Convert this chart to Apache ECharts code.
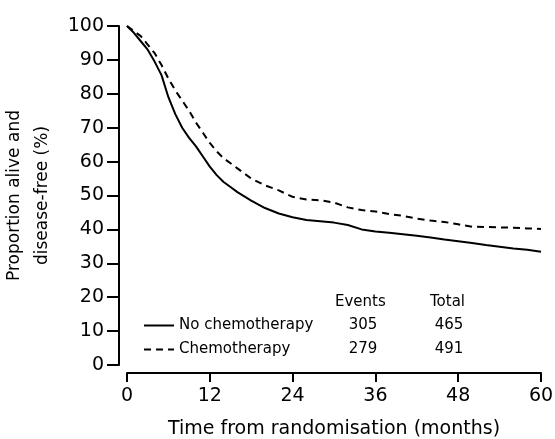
<!DOCTYPE html>
<html>
<head>
<meta charset="UTF-8">
<title></title>
<script src="https://cdn.jsdelivr.net/npm/echarts@6/dist/echarts.min.js"></script>
<style>
	html, body { margin: 0; padding: 0; background: #fff; }
	#main { width: 555px; height: 439px; }
</style>
</head>
<body>
<div id="main"></div>
<script>
	// months from randomisation
	var months = [0, 1, 2, 3, 4, 5, 6, 7, 8, 9, 10, 11, 12, 13, 14, 15, 16, 18, 20, 22, 24, 26, 28, 30, 32, 34, 36, 38, 40, 42, 44, 46, 48, 50, 52, 54, 56, 58, 60];
	// proportion alive and disease-free (%)
	var noChemo = [100, 98, 95.5, 93, 89.5, 85.5, 79, 74, 70, 67, 64.5, 61.5, 58.5, 56, 54, 52.5, 51, 48.5, 46.3, 44.7, 43.6, 42.8, 42.4, 42, 41.3, 40, 39.4, 39, 38.6, 38.1, 37.6, 37, 36.5, 36, 35.4, 34.9, 34.4, 34, 33.4];
	var chemo = [100, 98.5, 97, 94.5, 92, 88.5, 84.5, 81, 78, 75, 71.5, 68.5, 65.5, 63, 61, 59.5, 58, 55, 53, 51.5, 49.6, 48.8, 48.6, 47.9, 46.5, 45.7, 45.3, 44.5, 44, 43.2, 42.6, 42.2, 41.5, 40.8, 40.7, 40.6, 40.5, 40.3, 40.1];

	var seriesNames = ['No chemotherapy', 'Chemotherapy'];
	var events = [305, 279];
	var totals = [465, 491];
	var xTicks = [0, 12, 24, 36, 48, 60];

	function pairs(ys) {
		return months.map(function (m, i) { return [m, ys[i]]; });
	}

	var font = 'DejaVu Sans';
	var myChart = echarts.init(document.getElementById('main'));
	var option = {
		backgroundColor: '#fff',
		animation: false,
		grid: {
			left: 127,
			right: 14,
			top: 26,
			bottom: 74,
			outerBoundsMode: 'none',
			containLabel: false
		},
		xAxis: {
			type: 'value',
			min: 0,
			max: 60,
			interval: 12,
			offset: 8,
			name: 'Time from randomisation (months)',
			nameLocation: 'middle',
			nameGap: 47,
			nameTextStyle: { fontFamily: font, fontSize: 19, color: '#000' },
			axisLine: { onZero: false, lineStyle: { color: '#000', width: 2 } },
			axisTick: { length: 9, lineStyle: { color: '#000', width: 2 } },
			axisLabel: {
				margin: 14, fontFamily: font, fontSize: 19, color: '#000',
				formatter: function (v) { return xTicks.indexOf(v) > -1 ? String(v) : ''; }
			},
			splitLine: { show: false }
		},
		yAxis: {
			type: 'value',
			min: 0,
			max: 100,
			interval: 10,
			offset: 8,
			name: 'Proportion alive and\ndisease-free (%)',
			nameLocation: 'middle',
			nameRotate: 90,
			nameGap: 47,
			nameTextStyle: { fontFamily: font, fontSize: 17, color: '#000', lineHeight: 28 },
			axisLine: { show: true, onZero: false, lineStyle: { color: '#000', width: 2 } },
			axisTick: { show: true, length: 12, lineStyle: { color: '#000', width: 2 } },
			axisLabel: { margin: 15, fontFamily: font, fontSize: 19, color: '#000' },
			splitLine: { show: false }
		},
		legend: {
			orient: 'vertical',
			left: 143,
			top: 318,
			padding: 0,
			itemWidth: 30,
			itemHeight: 14,
			itemGap: 9,
			itemStyle: { opacity: 0 },
			data: seriesNames,
			textStyle: {
				fontFamily: font, fontSize: 15, color: '#000',
				rich: {
					n: { width: 154, fontFamily: font, fontSize: 15, color: '#000' },
					e: { width: 60, align: 'center', fontFamily: font, fontSize: 15, color: '#000' },
					t: { width: 112, align: 'center', fontFamily: font, fontSize: 15, color: '#000' }
				}
			},
			formatter: function (name) {
				var i = seriesNames.indexOf(name);
				return '{n|' + name + '}{e|' + events[i] + '}{t|' + totals[i] + '}';
			}
		},
		graphic: [
			{ type: 'text', left: 335, top: 295, style: { text: 'Events', font: '15px "DejaVu Sans"', fill: '#000' } },
			{ type: 'text', left: 430, top: 295, style: { text: 'Total', font: '15px "DejaVu Sans"', fill: '#000' } }
		],
		series: [{
			name: seriesNames[0],
			type: 'line',
			symbol: 'none',
			lineStyle: { color: '#000', width: 2 },
			itemStyle: { color: '#000' },
			data: pairs(noChemo)
		}, {
			name: seriesNames[1],
			type: 'line',
			symbol: 'none',
			lineStyle: { color: '#000', width: 2, type: [7, 5] },
			itemStyle: { color: '#000' },
			data: pairs(chemo)
		}]
	};
	myChart.setOption(option);
</script>
</body>
</html>
